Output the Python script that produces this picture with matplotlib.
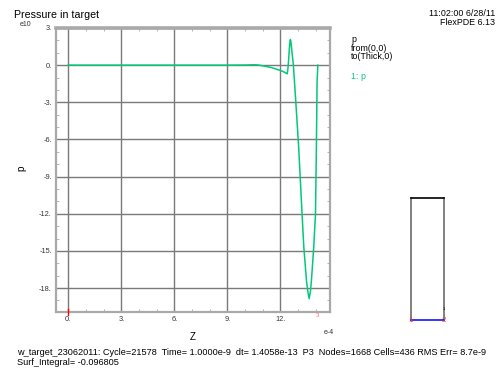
import numpy as np
import matplotlib.pyplot as plt
from matplotlib.ticker import MultipleLocator, FuncFormatter

plt.rcParams['font.family'] = ['Liberation Sans', 'DejaVu Sans']

# pressure along the cut from (0,0) to (Thick,0); z in units of 1e-4, p in units of 1e10
z = [0.0, 1.0, 2.0, 3.0, 4.0, 5.0, 6.0, 7.0, 8.0, 9.0, 10.0, 10.5, 10.7,
     11.0, 11.5, 12.0, 12.2, 12.38, 12.42, 12.46, 12.5, 12.54, 12.56, 12.59,
     12.64, 12.7, 12.73, 12.79, 12.85, 13.03, 13.22, 13.32, 13.47, 13.55,
     13.62, 13.69, 13.75, 13.88, 13.98, 14.03, 14.07, 14.1, 14.11]
p = [0.0, 0.0, 0.0, 0.0, 0.0, 0.0, 0.0, 0.0, 0.0, 0.0, 0.01, 0.03, 0.02,
     -0.05, -0.2, -0.43, -0.55, -0.7, -0.3, 0.4, 1.3, 1.95, 2.07, 1.9,
     1.2, 0.4, 0.0, -1.3, -2.6, -6.65, -12.0, -14.7, -17.4, -18.3,
     -18.85, -18.3, -17.4, -14.7, -12.0, -6.65, -1.3, -0.4, 0.0]

x_ticks = [0, 3, 6, 9, 12]
y_ticks = [3, 0, -3, -6, -9, -12, -15, -18]

title = "Pressure in target"
stamp = ["11:02:00 6/28/11", "FlexPDE 6.13"]
legend_lines = ["p", "from(0,0)", "to(Thick,0)"]
footer = ["w_target_23062011: Cycle=21578  Time= 1.0000e-9  dt= 1.4058e-13  P3  "
          "Nodes=1668 Cells=436 RMS Err= 8.7e-9",
          "Surf_Integral= -0.096805"]

# domain outline for the small map (width 1, height in same units)
dom_w = 1.0
dom_h = 3.69

W, H = 499, 372
green = '#00c97c'
grid_c = '#7a7a7a'
frame_c = '#a9a9a9'

fig = plt.figure(figsize=(W / 100, H / 100), dpi=100)


def fx(px):
    return px / W


def fy(py):
    return 1 - py / H


ax = fig.add_axes([fx(56), fy(312), fx(330) - fx(56), fy(28) - fy(312)])
ax.set_xlim(-0.69, 14.8)
ax.set_ylim(-19.93, 2.9)

for t in x_ticks:
    ax.axvline(t, color=grid_c, lw=1.0, zorder=1)
for t in y_ticks:
    ax.axhline(t, color=grid_c, lw=1.0, zorder=1)

ax.plot(z, p, color=green, lw=1.1, zorder=3, solid_joinstyle='round')

for side in ['left', 'right', 'bottom']:
    ax.spines[side].set_color(frame_c)
    ax.spines[side].set_linewidth(1.6)
ax.spines['top'].set_color(frame_c)
ax.spines['top'].set_linewidth(2.6)

ax.set_xticks(x_ticks)
ax.set_yticks(y_ticks)
ax.xaxis.set_minor_locator(MultipleLocator(1))
ax.yaxis.set_minor_locator(MultipleLocator(1))
fmt = FuncFormatter(lambda v, pos: f"{v:.0f}.")
ax.xaxis.set_major_formatter(fmt)
ax.yaxis.set_major_formatter(fmt)
ax.tick_params(which='both', direction='in', color=frame_c, width=0.6,
               top=True, right=True, labelsize=5.3, labelcolor='#333333')
ax.tick_params(which='major', length=0, pad=3)
ax.tick_params(which='minor', length=2)

# red marker at the start of the cut and the end label
ax.plot([0, 0], [-0.012, 0.012], transform=ax.get_xaxis_transform(),
        color='red', lw=1.0, clip_on=False, zorder=4)
ax.text(z[-1], -0.004, "3", transform=ax.get_xaxis_transform(),
        color='#ff7070', fontsize=4.5, ha='center', va='top')

fig.text(fx(14), fy(17.5), title, fontsize=7.7, ha='left', va='baseline')
fig.text(fx(26), fy(25), "e10", fontsize=5, ha='center', va='center',
         color='#333333')
fig.text(fx(329), fy(332), "e-4", fontsize=5, ha='center', va='center',
         color='#333333')
fig.text(fx(193), fy(337), "Z", fontsize=7, ha='center', va='center')
fig.text(fx(21), fy(168), "p", fontsize=7, ha='center', va='center',
         rotation=90)

# two stacked header lines, set tight against each other
fig.text(fx(495), fy(18), stamp[0], fontsize=6.4, ha='right', va='bottom')
fig.text(fx(495), fy(18.3), stamp[1], fontsize=6.4, ha='right', va='top')

for i, line in enumerate(legend_lines):
    fig.text(fx(351), fy(42 + 8.6 * i), line, fontsize=6.4, ha='left',
             va='baseline')
fig.text(fx(351), fy(79), "1: p", fontsize=6.4, ha='left', va='baseline',
         color=green)

fig.text(fx(17), fy(355), footer[0], fontsize=6.6, ha='left', va='baseline')
fig.text(fx(17), fy(365), footer[1], fontsize=6.6, ha='left', va='baseline')

# small map of the domain with the cut line
ax_in = fig.add_axes([fx(406), fy(325), fx(449) - fx(406), fy(193) - fy(325)])
ax_in.set_xlim(-0.15, dom_w + 0.15)
ax_in.set_ylim(-0.15, dom_h + 0.15)
ax_in.axis('off')
ax_in.plot([0, 0], [0, dom_h], color='#808080', lw=1.4)
ax_in.plot([dom_w, dom_w], [0, dom_h], color='#808080', lw=1.4)
ax_in.plot([0, dom_w], [dom_h, dom_h], color='black', lw=1.2)
ax_in.plot([0, dom_w], [0, 0], color='blue', lw=1.1)
ax_in.text(0, 0, "1", color='#ff4040', fontsize=5.8, ha='center', va='center')
ax_in.text(dom_w, 0, "2", color='#ff4040', fontsize=5.8, ha='center', va='center')
ax_in.text(dom_w, 0.34, "1", color='black', fontsize=3, ha='center', va='center')

fig.savefig('out.png', dpi=100)
